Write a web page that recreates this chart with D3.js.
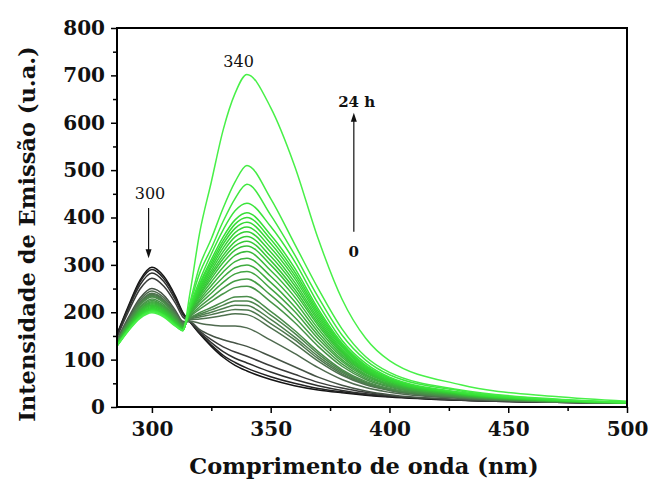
<!DOCTYPE html>
<html>
<head>
<meta charset="utf-8">
<script src="https://cdn.jsdelivr.net/npm/d3@7"></script>
<style>
  html, body { margin: 0; padding: 0; background: #fff; }
  svg { display: block; }
</style>
</head>
<body>
<svg id="chart" width="650" height="479"></svg>
<script>
// Emission wavelengths (nm) at which every scan is sampled
const wavelengths = [285, 290, 295, 300, 305, 310, 313, 316, 320, 325, 330, 335, 340, 350, 360, 370, 380, 390, 400, 430, 470, 500];

// Emission intensity (a.u.) of each scan, from 0 h (first) to 24 h (last)
const scan00 = [150, 212, 268, 295, 276, 233, 200, 180, 155, 128, 105, 88, 76, 58, 45, 36, 30, 25, 21, 14, 10, 8];
const scan01 = [149, 209, 264, 290, 271, 230, 198, 180, 156, 131, 109, 94, 82, 64, 50, 39, 32, 26, 22, 14, 10, 8];
const scan02 = [147, 206, 258, 283, 265, 225, 195, 180, 158, 136, 117, 103, 93, 74, 58, 45, 35, 28, 23, 15, 10, 8];
const scan03 = [144, 200, 249, 272, 255, 218, 190, 180, 161, 142, 127, 116, 107, 87, 69, 52, 40, 31, 24, 15, 10, 8];
const scan04 = [139, 188, 230, 250, 236, 203, 181, 180, 164, 151, 142, 135, 128, 107, 85, 63, 46, 34, 26, 16, 10, 8];
const scan05 = [138, 185, 226, 245, 231, 200, 179, 181, 177, 173, 171, 171, 167, 141, 113, 83, 58, 41, 31, 18, 11, 8];
const scan06 = [136, 182, 222, 240, 227, 197, 177, 184, 186, 189, 193, 197, 195, 167, 134, 97, 67, 47, 35, 19, 11, 8];
const scan07 = [136, 181, 220, 238, 225, 196, 176, 185, 190, 195, 201, 206, 205, 176, 142, 102, 70, 49, 36, 20, 11, 8];
const scan08 = [135, 180, 218, 236, 223, 194, 175, 186, 193, 200, 208, 215, 214, 185, 148, 107, 73, 50, 37, 20, 11, 8];
const scan09 = [135, 179, 217, 234, 221, 193, 175, 187, 196, 205, 215, 224, 224, 194, 156, 112, 76, 52, 38, 21, 11, 8];
const scan10 = [134, 178, 215, 232, 220, 192, 174, 188, 199, 210, 222, 232, 233, 202, 162, 117, 79, 54, 39, 21, 12, 8];
const scan11 = [133, 176, 211, 228, 216, 189, 172, 190, 206, 223, 239, 252, 255, 222, 179, 128, 86, 58, 42, 22, 12, 8];
const scan12 = [132, 174, 209, 225, 213, 187, 171, 192, 211, 231, 251, 266, 270, 236, 190, 136, 91, 61, 44, 23, 12, 8];
const scan13 = [132, 172, 206, 222, 211, 185, 170, 194, 217, 240, 263, 281, 286, 250, 202, 144, 96, 64, 46, 24, 12, 9];
const scan14 = [131, 171, 205, 220, 209, 184, 169, 196, 222, 248, 274, 294, 300, 263, 212, 151, 100, 67, 47, 25, 13, 9];
const scan15 = [131, 170, 203, 218, 207, 182, 168, 198, 226, 256, 285, 307, 314, 276, 223, 158, 105, 69, 49, 25, 13, 9];
const scan16 = [130, 169, 201, 216, 205, 181, 167, 200, 231, 264, 295, 320, 328, 288, 233, 165, 109, 72, 51, 26, 13, 9];
const scan17 = [130, 168, 200, 214, 203, 180, 166, 201, 235, 271, 305, 331, 340, 300, 242, 172, 113, 74, 52, 27, 13, 9];
const scan18 = [129, 167, 198, 212, 202, 178, 165, 202, 238, 277, 313, 340, 350, 309, 249, 177, 116, 76, 54, 27, 13, 9];
const scan19 = [129, 166, 196, 210, 200, 177, 165, 204, 242, 282, 320, 349, 360, 318, 257, 182, 119, 78, 55, 28, 14, 9];
const scan20 = [128, 165, 195, 208, 198, 176, 164, 205, 245, 288, 328, 359, 370, 327, 264, 187, 122, 80, 56, 28, 14, 9];
const scan21 = [128, 164, 194, 207, 197, 175, 163, 206, 249, 294, 336, 368, 380, 336, 272, 192, 126, 82, 57, 29, 14, 9];
const scan22 = [128, 164, 193, 206, 196, 175, 163, 207, 252, 299, 344, 377, 390, 345, 279, 197, 129, 84, 59, 29, 14, 9];
const scan23 = [128, 163, 192, 205, 195, 174, 162, 208, 256, 305, 351, 386, 400, 354, 286, 202, 132, 86, 60, 30, 14, 9];
const scan24 = [127, 163, 191, 204, 194, 173, 162, 209, 259, 311, 359, 395, 410, 363, 294, 207, 135, 88, 61, 30, 15, 9];
const scan25 = [127, 162, 190, 203, 194, 173, 162, 212, 266, 323, 374, 414, 430, 381, 308, 218, 141, 92, 63, 31, 15, 9];
const scan26 = [127, 162, 189, 202, 193, 172, 161, 216, 281, 335, 392, 440, 470, 405, 322, 232, 152, 99, 68, 34, 16, 10];
const scan27 = [127, 161, 189, 201, 192, 171, 161, 220, 296, 355, 420, 475, 510, 440, 345, 250, 165, 106, 73, 36, 17, 10];
const scan28 = [126, 160, 187, 199, 190, 170, 162, 240, 365, 475, 585, 662, 702, 632, 510, 355, 228, 145, 98, 47, 22, 12];

const scans = [scan00, scan01, scan02, scan03, scan04, scan05, scan06, scan07, scan08, scan09,
               scan10, scan11, scan12, scan13, scan14, scan15, scan16, scan17, scan18, scan19,
               scan20, scan21, scan22, scan23, scan24, scan25, scan26, scan27, scan28];

// Axis ticks
const xMajorTicks = [300, 350, 400, 450, 500];
const xMinorTicks = [325, 375, 425, 475];
const yMajorTicks = [0, 100, 200, 300, 400, 500, 600, 700, 800];
const yMinorTicks = [50, 150, 250, 350, 450, 550, 650, 750];

// Peak labels and time labels
const peakLabels = ["300", "340"];
const timeLabels = ["0", "24 h"];

// Line shade ramp: dark grey at 0 h through to bright green at 24 h
const shadeIndex = [0, 3, 5, 9, 13, 18, 24, 28];
const shadeColors = ["#141414", "#3a3c3a", "#4f6a4f", "#4c844c", "#42a442", "#35c835", "#36e036", "#48f048"];

const svg = d3.select("#chart");
const margin = { left: 117, top: 28, right: 23, bottom: 72 };
const W = 650 - margin.left - margin.right;
const H = 479 - margin.top - margin.bottom;

const x = d3.scaleLinear().domain([285.3, 500]).range([0, W]);
const y = d3.scaleLinear().domain([0, 800]).range([H, 0]);
const shade = d3.scaleLinear().domain(shadeIndex).range(shadeColors).interpolate(d3.interpolateRgb);

const g = svg.append("g").attr("transform", `translate(${margin.left},${margin.top})`);

g.append("defs").append("clipPath").attr("id", "plotClip")
  .append("rect").attr("x", 0).attr("y", 0).attr("width", W).attr("height", H);

// Spectra
const line = d3.line()
  .x((d, i) => x(wavelengths[i]))
  .y(d => y(d))
  .curve(d3.curveMonotoneX);

g.append("g").attr("clip-path", "url(#plotClip)")
  .selectAll("path")
  .data(scans)
  .join("path")
  .attr("d", line)
  .attr("fill", "none")
  .attr("stroke", (d, i) => shade(i))
  .attr("stroke-width", 1.5)
  .attr("stroke-linejoin", "round");

// Axes
const font = "'DejaVu Serif', 'Liberation Serif', serif";

g.append("g").attr("transform", `translate(0,${H})`)
  .call(d3.axisBottom(x).tickValues(xMajorTicks).tickSize(6).tickPadding(9).tickFormat(d3.format("d")));
g.append("g").attr("transform", `translate(0,${H})`)
  .call(d3.axisBottom(x).tickValues(xMinorTicks).tickSize(4).tickFormat(""));

g.append("g")
  .call(d3.axisLeft(y).tickValues(yMajorTicks).tickSize(6).tickPadding(6).tickFormat(d3.format("d")));
g.append("g")
  .call(d3.axisLeft(y).tickValues(yMinorTicks).tickSize(4).tickFormat(""));

g.selectAll(".domain").remove();
g.selectAll(".tick line").attr("stroke", "#000").attr("stroke-width", 1.5);
g.selectAll(".tick text")
  .attr("font-family", font)
  .attr("font-weight", "bold")
  .attr("font-size", 20)
  .attr("fill", "#111");

// Frame
g.append("rect")
  .attr("x", 0).attr("y", 0).attr("width", W).attr("height", H)
  .attr("fill", "none").attr("stroke", "#000").attr("stroke-width", 2);

// Axis titles
svg.append("text")
  .attr("x", 364).attr("y", 474)
  .attr("text-anchor", "middle")
  .attr("font-family", font).attr("font-weight", "bold").attr("font-size", 22.5)
  .attr("fill", "#111")
  .text("Comprimento de onda (nm)");

svg.append("text")
  .attr("transform", "translate(35,234) rotate(-90)")
  .attr("text-anchor", "middle")
  .attr("font-family", font).attr("font-weight", "bold").attr("font-size", 22.5)
  .attr("fill", "#111")
  .text("Intensidade de Emissão (u.a.)");

// Peak annotations
const ann = g.append("g");
ann.append("text")
  .attr("x", x(299.2)).attr("y", y(440))
  .attr("text-anchor", "middle")
  .attr("font-family", font).attr("font-size", 16).attr("fill", "#111")
  .text(peakLabels[0]);
ann.append("text")
  .attr("x", x(336.5)).attr("y", y(718))
  .attr("text-anchor", "middle")
  .attr("font-family", font).attr("font-size", 16).attr("fill", "#111")
  .text(peakLabels[1]);

function arrow(xv, y0, y1) {
  // vertical arrow from y0 to y1 (data units), head at y1
  const px = x(xv), p0 = y(y0), p1 = y(y1);
  const dir = p1 > p0 ? 1 : -1;
  ann.append("line")
    .attr("x1", px).attr("x2", px).attr("y1", p0).attr("y2", p1 - dir * 6)
    .attr("stroke", "#111").attr("stroke-width", 1.2);
  ann.append("path")
    .attr("d", `M${px},${p1} L${px - 3},${p1 - dir * 9} L${px + 3},${p1 - dir * 9} Z`)
    .attr("fill", "#111");
}
arrow(298.6, 420, 314);
arrow(385, 370, 621);

ann.append("text")
  .attr("x", x(386.2)).attr("y", y(634))
  .attr("text-anchor", "middle")
  .attr("font-family", font).attr("font-weight", "bold").attr("font-size", 15).attr("fill", "#111")
  .text(timeLabels[1]);
ann.append("text")
  .attr("x", x(385)).attr("y", y(317))
  .attr("text-anchor", "middle")
  .attr("font-family", font).attr("font-weight", "bold").attr("font-size", 15).attr("fill", "#111")
  .text(timeLabels[0]);
</script>
</body>
</html>
